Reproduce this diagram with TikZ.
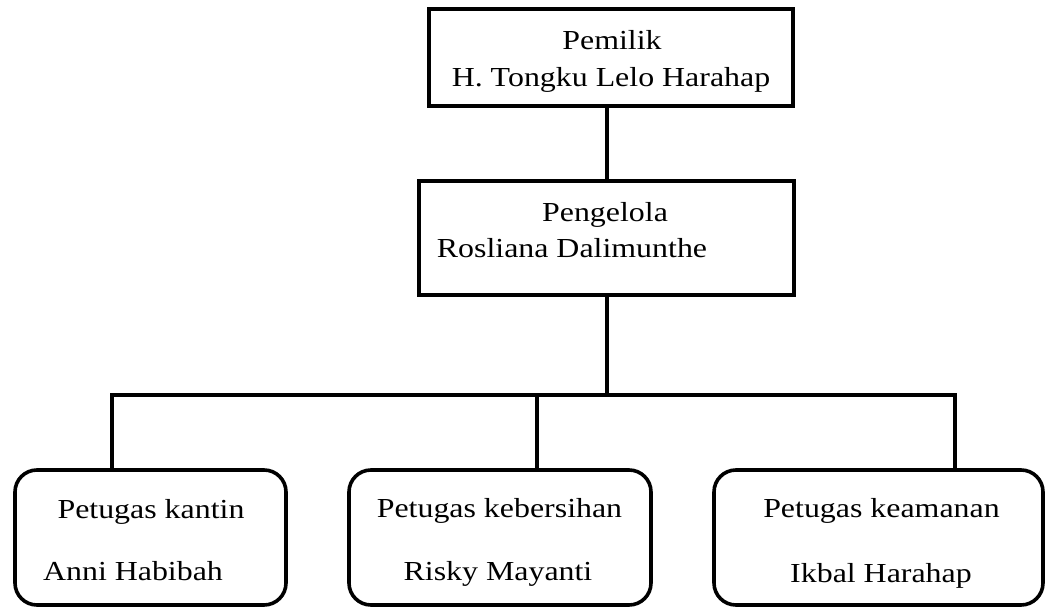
\documentclass[tikz,border=0pt]{standalone}
\usepackage{fontspec}
\setmainfont{Liberation Serif}[FakeStretch=1.16]
\usepackage{tikz}
\usetikzlibrary{positioning, calc}
\tikzset{
    kotak/.style={
        rectangle,
        draw=black,
        line width=3.6pt,
        inner sep=0pt
    },
    kotakbulat/.style={
        kotak,
        rounded corners=22pt
    },
    teks/.style={
        anchor=base,
        inner sep=0pt,
        font=\fontsize{27.5}{33}\selectfont
    },
    garis/.style={
        line width=3.6pt
    }
}
\begin{document}
\begin{tikzpicture}[x=1pt, y=-1pt]
      \useasboundingbox (0,0) rectangle (1046,609);

      % kotak
      \node[kotak, minimum width=364pt, minimum height=97pt]  (pemilik)   at (611, 57.5)  {};
      \node[kotak, minimum width=375pt, minimum height=114pt] (pengelola) at (606.5, 238) {};
      \node[kotakbulat, minimum width=271pt, minimum height=135pt] (kantin)     at (150.5, 537.5) {};
      \node[kotakbulat, minimum width=302pt, minimum height=135pt] (kebersihan) at (500, 537.5)   {};
      \node[kotakbulat, minimum width=329pt, minimum height=135pt] (keamanan)   at (878.5, 537.5) {};

      % teks
      \node[teks] (pemilikA)    at (612, 50)  {Pemilik};
      \node[teks] (pemilikB)    at (611, 87)  {H. Tongku Lelo Harahap};
      \node[teks] (pengelolaA)  at (605, 222) {Pengelola};
      \node[teks] (pengelolaB)  at (572, 258) {Rosliana Dalimunthe};
      \node[teks] (kantinA)     at (151, 518) {Petugas kantin};
      \node[teks] (kantinB)     at (133, 580) {Anni Habibah};
      \node[teks] (kebersihanA) at (499.5, 517) {Petugas kebersihan};
      \node[teks] (kebersihanB) at (498, 580) {Risky Mayanti};
      \node[teks] (keamananA)   at (881.5, 517) {Petugas keamanan};
      \node[teks] (keamananB)   at (881, 582) {Ikbal Harahap};

      % garis
      \coordinate (cabang) at (607, 395);
      \coordinate (cabangL) at (112, 395);
      \coordinate (cabangM) at (537, 395);
      \coordinate (cabangR) at (955, 395);

      \draw[garis] (cabang |- pemilik.south) -- (cabang |- pengelola.north);
      \draw[garis] (cabang |- pengelola.south) -- (cabang);
      \draw[garis] (cabangL |- kantin.north) -- (cabangL) -- (cabangR) -- (cabangR |- keamanan.north);
      \draw[garis] (cabangM) -- (cabangM |- kebersihan.north);
    \end{tikzpicture}
\end{document}
